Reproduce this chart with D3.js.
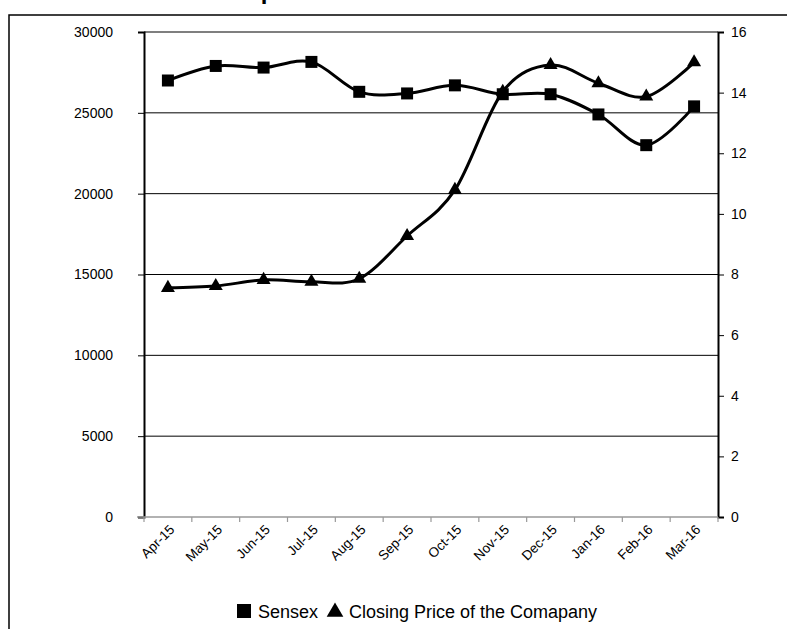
<!DOCTYPE html>
<html><head><meta charset="utf-8">
<script src="https://cdn.jsdelivr.net/npm/d3@7"></script>
<style>body{margin:0;background:#fff;}svg{display:block;font-family:"Liberation Sans",Arial,sans-serif;}</style>
</head><body>
<script>
const categories = ["Apr-15","May-15","Jun-15","Jul-15","Aug-15","Sep-15","Oct-15","Nov-15","Dec-15","Jan-16","Feb-16","Mar-16"];
const sensex = [27000,27900,27800,28150,26300,26200,26700,26150,26150,24900,23000,25400];
const company = [7.56,7.62,7.82,7.76,7.86,9.27,10.79,14.03,14.91,14.31,13.87,15.0];
const leftTicks = [0,5000,10000,15000,20000,25000,30000];
const rightTicks = [0,2,4,6,8,10,12,14,16];
const seriesNames = ["Sensex","Closing Price of the Comapany"];
const title = "Performance in comparison to broad based indices - BSE Sensex";

const W=787,H=629;
const m={left:144,right:69,top:32,bottom:112};
const svg=d3.select("body").append("svg").attr("width",W).attr("height",H);

svg.append("text").attr("x",W/2+10).attr("y",-1).attr("text-anchor","middle")
  .attr("font-weight","bold").attr("font-size",24).text(title);
svg.append("rect").attr("x",9).attr("y",15).attr("width",900).attr("height",800)
  .attr("fill","none").attr("stroke","#000").attr("stroke-width",1.5);

const x=d3.scaleBand().domain(categories).range([m.left,W-m.right]);
const yL=d3.scaleLinear().domain([0,30000]).range([H-m.bottom,m.top]);
const yR=d3.scaleLinear().domain([0,16]).range([H-m.bottom,m.top]);

// gridlines
svg.append("g").selectAll("line").data(leftTicks.filter(d=>d>0&&d<30000)).join("line")
  .attr("x1",m.left).attr("x2",W-m.right).attr("y1",d=>yL(d)).attr("y2",d=>yL(d))
  .attr("stroke","#000").attr("stroke-width",1);
svg.append("line").attr("x1",m.left).attr("x2",W-m.right).attr("y1",yL(30000)).attr("y2",yL(30000))
  .attr("stroke","#000").attr("stroke-width",1.2);

// left axis
const gL=svg.append("g").attr("transform",`translate(${m.left},0)`)
  .call(d3.axisLeft(yL).tickValues(leftTicks).tickSize(6).tickPadding(25).tickFormat(d3.format("d")));
gL.select(".domain").attr("stroke","#000").attr("stroke-width",2);
gL.selectAll(".tick line").attr("stroke","#000");
gL.selectAll("text").attr("font-size",14).attr("fill","#000").attr("font-family","Liberation Sans, Arial, sans-serif");

// right axis
const gR=svg.append("g").attr("transform",`translate(${W-m.right},0)`)
  .call(d3.axisRight(yR).tickValues(rightTicks).tickSize(6).tickPadding(7));
gR.select(".domain").attr("stroke","#000").attr("stroke-width",2);
gR.selectAll(".tick line").attr("stroke","#000");
gR.selectAll("text").attr("font-size",14).attr("fill","#000").attr("font-family","Liberation Sans, Arial, sans-serif");

// x axis
const xb=H-m.bottom;
svg.append("line").attr("x1",m.left-7).attr("x2",W-m.right).attr("y1",xb).attr("y2",xb)
  .attr("stroke","#999").attr("stroke-width",1.5);
const bounds=categories.map(c=>x(c)).concat([x(categories[categories.length-1])+x.bandwidth()]);
svg.append("g").selectAll("line").data(bounds).join("line")
  .attr("x1",d=>d).attr("x2",d=>d).attr("y1",xb).attr("y2",xb+5).attr("stroke","#999").attr("stroke-width",1.2);
svg.append("g").selectAll("text").data(categories).join("text")
  .attr("transform",d=>`translate(${x(d)+x.bandwidth()/2+4},${xb+10}) rotate(-45)`)
  .attr("text-anchor","end").attr("dy","0.35em").attr("font-size",13.5).text(d=>d);

const cx=d=>x(d)+x.bandwidth()/2;
const line=d3.line().curve(d3.curveCardinal.tension(0));
svg.append("path").attr("d",line(categories.map((c,i)=>[cx(c),yL(sensex[i])])))
  .attr("fill","none").attr("stroke","#000").attr("stroke-width",3);
svg.append("path").attr("d",line(categories.map((c,i)=>[cx(c),yR(company[i])])))
  .attr("fill","none").attr("stroke","#000").attr("stroke-width",3);

const sq=d3.symbol().type(d3.symbolSquare).size(144);
const tri=d3.symbol().type(d3.symbolTriangle).size(85);
svg.append("g").selectAll("path").data(categories).join("path")
  .attr("transform",(c,i)=>`translate(${cx(c)},${yL(sensex[i])})`).attr("d",sq).attr("fill","#000");
svg.append("g").selectAll("path").data(categories).join("path")
  .attr("transform",(c,i)=>`translate(${cx(c)},${yR(company[i])})`).attr("d",tri).attr("fill","#000");

// legend
const lg=svg.append("g");
lg.append("path").attr("transform","translate(244,611)").attr("d",d3.symbol().type(d3.symbolSquare).size(196)).attr("fill","#000");
lg.append("text").attr("x",258).attr("y",618).attr("font-size",18).text(seriesNames[0]);
lg.append("path").attr("transform","translate(335,612)").attr("d",d3.symbol().type(d3.symbolTriangle).size(120)).attr("fill","#000");
lg.append("text").attr("x",349).attr("y",618).attr("font-size",18).text(seriesNames[1]);
</script>
</body></html>
